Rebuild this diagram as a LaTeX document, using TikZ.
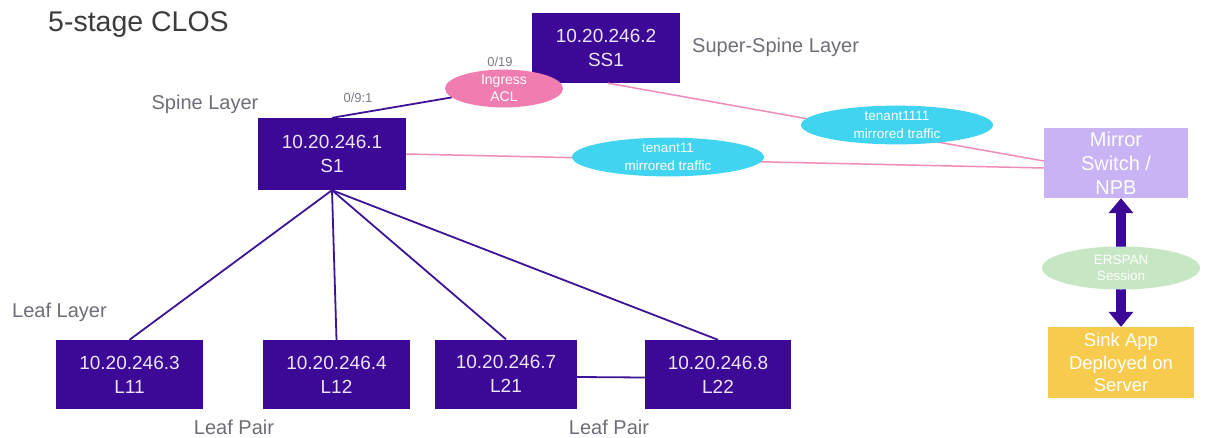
\documentclass[tikz,border=0pt]{standalone}
\usepackage{fontspec}
\setmainfont{Liberation Sans}
\usetikzlibrary{arrows.meta,shapes.geometric}
\definecolor{boxc}{RGB}{59,9,150}
\definecolor{boxtext}{RGB}{236,228,250}
\definecolor{linec}{RGB}{60,20,150}
\definecolor{pinkline}{RGB}{240,140,185}
\definecolor{aclfill}{RGB}{240,125,175}
\definecolor{cyanfill}{RGB}{64,212,240}
\definecolor{mirrorfill}{RGB}{200,180,245}
\definecolor{greenfill}{RGB}{198,230,196}
\definecolor{yellowfill}{RGB}{247,203,77}
\definecolor{labelgray}{RGB}{110,110,120}
\definecolor{titlegray}{RGB}{60,60,60}
\tikzset{
  devbox/.style={fill=boxc, text=boxtext, minimum width=147pt, minimum height=70pt, inner sep=0pt, align=center, font=\fontsize{19}{24}\selectfont},
  colbox/.style={text=white, minimum width=145pt, minimum height=71pt, inner sep=0pt, align=center},
  oval/.style={ellipse, inner sep=0pt, text=white, align=center},
  layerlabel/.style={text=labelgray, font=\fontsize{20}{24}\selectfont, inner sep=0pt},
  portlabel/.style={text=labelgray!90, font=\fontsize{13}{15}\selectfont, inner sep=0pt},
  spineline/.style={draw=linec, line width=1.8pt},
  mirrorline/.style={draw=pinkline, line width=1.5pt},
  bigarrow/.style={draw=boxc, line width=10pt, {Triangle[width=24pt,length=15pt]}-{Triangle[width=24pt,length=15pt]}}
}
\begin{document}
\begin{tikzpicture}[x=1pt,y=-1pt]
\path[use as bounding box, fill=white] (0,0) rectangle (1205,437);

% labels
\node[text=titlegray, font=\fontsize{28.5}{32}\selectfont, inner sep=0pt, anchor=west] (title) at (48,25) {5-stage CLOS};
\node[layerlabel, anchor=west] (sslabel) at (692,47) {Super-Spine Layer};
\node[layerlabel] (splabel) at (205,104) {Spine Layer};
\node[layerlabel, anchor=west] (leaflabel) at (12,312) {Leaf Layer};
\node[layerlabel] (lp1) at (234,427) {Leaf Pair};
\node[layerlabel] (lp2) at (609,427) {Leaf Pair};
\node[portlabel] (p019) at (500,62) {0/19};
\node[portlabel] (p091) at (358,98) {0/9:1};

% devices
\node[devbox, minimum width=148pt] (SS1) at (606,48) {10.20.246.2\\SS1};
\node[devbox, minimum width=148pt, minimum height=72pt] (S1) at (332,154) {10.20.246.1\\S1};
\node[devbox, minimum height=69pt] (L11) at (129.5,374.5) {10.20.246.3\\L11};
\node[devbox, minimum height=69pt] (L12) at (336.5,374.5) {10.20.246.4\\L12};
\node[devbox, minimum width=142pt, minimum height=69pt] (L21) at (506,374) {10.20.246.7\\L21};
\node[devbox, minimum width=146pt, minimum height=69pt] (L22) at (718,374.5) {10.20.246.8\\L22};
\node[colbox, fill=mirrorfill, minimum width=144pt, minimum height=70pt, font=\fontsize{20}{24}\selectfont] (Mirror) at (1116,163) {Mirror\\Switch /\\NPB};
\node[colbox, fill=yellowfill, minimum width=146pt, font=\fontsize{18.5}{22.5}\selectfont] (Sink) at (1121,362.5) {Sink App\\Deployed on\\Server};

% connectors
\draw[spineline] (S1.south) -- (L11.north);
\draw[spineline] (S1.south) -- (L12.north);
\draw[spineline] (S1.south) -- (L21.north);
\draw[spineline] (S1.south) -- (L22.north);
\draw[spineline] ([yshift=-3pt]L21.east) -- ([yshift=-3pt]L22.west);
\draw[mirrorline] ([xshift=2pt]SS1.south) -- ([yshift=2pt]Mirror.west);
\draw[mirrorline] (S1.east) -- ([yshift=-5pt]Mirror.west);
\draw[bigarrow] (Mirror.south -| Sink.north) -- (Sink.north);

% ovals
\node[oval, fill=aclfill, minimum width=118pt, minimum height=32pt, font=\fontsize{14}{17}\selectfont] (ACL) at (504,88.5) {Ingress\\ACL};
\draw[spineline] (S1.north) -- (ACL);
\node[oval, fill=cyanfill, minimum width=192pt, minimum height=38pt, font=\fontsize{13.5}{18}\selectfont] (t1111) at (897,125) {tenant1111\\mirrored traffic};
\node[oval, fill=cyanfill, minimum width=192pt, minimum height=38pt, font=\fontsize{13.5}{18}\selectfont] (t11) at (668,157) {tenant11\\mirrored traffic};
\node[oval, fill=greenfill, minimum width=158pt, minimum height=43pt, font=\fontsize{13.5}{16}\selectfont] (erspan) at (1121,268) {ERSPAN\\Session};
\end{tikzpicture}
\end{document}
